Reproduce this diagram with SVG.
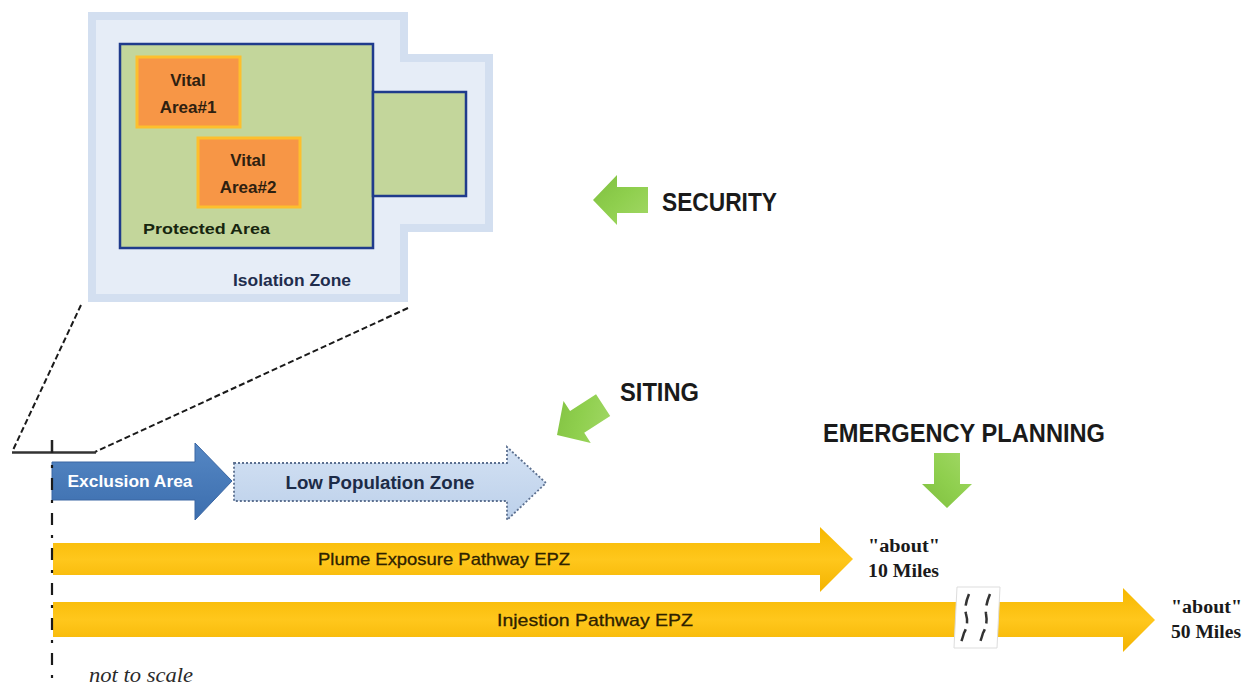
<svg xmlns="http://www.w3.org/2000/svg" xmlns:xlink="http://www.w3.org/1999/xlink" width="1248" height="685" viewBox="0 0 1248 685">
<style>
.sans{font-family:"Liberation Sans",Arial,sans-serif}
.serif{font-family:"Liberation Serif","Times New Roman",serif}
.big{font-family:"Liberation Sans",Arial,sans-serif;font-weight:bold;font-size:26px;fill:#1a1a1a}
.va{font-family:"Liberation Sans",Arial,sans-serif;font-weight:bold;font-size:17px;fill:#2e2010;text-anchor:middle}
.dash{fill:none;stroke:#1a1a1a;stroke-width:2;stroke-dasharray:6 3}
.yl{font-family:"Liberation Sans",Arial,sans-serif;font-size:17px;fill:#2e2200;text-anchor:middle;stroke:#2e2200;stroke-width:0.3}
.mi{font-family:"Liberation Serif","Times New Roman",serif;font-weight:bold;font-size:18px;fill:#1a1a1a}
</style>
<defs>
<linearGradient id="gGreen" x1="0" y1="0" x2="1" y2="1">
<stop offset="0" stop-color="#a3d867"/><stop offset="0.5" stop-color="#8fcf4e"/><stop offset="1" stop-color="#7fbf3f"/>
</linearGradient>
<linearGradient id="gYel" x1="0" y1="0" x2="0" y2="1">
<stop offset="0" stop-color="#f6b800"/><stop offset="0.5" stop-color="#ffc71c"/><stop offset="1" stop-color="#f3b300"/>
</linearGradient>
<linearGradient id="gBlue" x1="0" y1="0" x2="0" y2="1">
<stop offset="0" stop-color="#5587c4"/><stop offset="1" stop-color="#3c6eae"/>
</linearGradient>
<linearGradient id="gLp" x1="0" y1="0" x2="0" y2="1">
<stop offset="0" stop-color="#d3e1f3"/><stop offset="1" stop-color="#bcd0ea"/>
</linearGradient>
<path id="garrow" d="M-55,-13 H-24 V-25 L0,0 L-24,25 V13 H-55 Z"/>
</defs>

<g id="isolation-zone">
<path d="M92,16 H404 V58 H489 V228 H404 V298 H92 Z" fill="#e6edf7" stroke="#d3dff0" stroke-width="8" stroke-linejoin="miter"/>
<text class="sans" x="292" y="286" font-size="16" font-weight="bold" fill="#1f2d4d" text-anchor="middle" textLength="118" lengthAdjust="spacingAndGlyphs">Isolation Zone</text>
</g>

<g id="protected-area">
<rect x="120" y="44" width="253" height="204" fill="#c3d69b" stroke="#1f3b8c" stroke-width="2.5"/>
<rect x="373" y="92" width="93" height="104" fill="#c3d69b" stroke="#1f3b8c" stroke-width="2.5"/>
<text class="sans" x="143" y="234" font-size="15.5" font-weight="bold" fill="#17260f" textLength="127" lengthAdjust="spacingAndGlyphs">Protected Area</text>
</g>

<g id="vital-area-1">
<rect x="137" y="57" width="103" height="70" fill="#f79646" stroke="#fdbf2d" stroke-width="3"/>
<text class="va" x="188" y="86">Vital</text>
<text class="va" x="188" y="113">Area#1</text>
</g>

<g id="vital-area-2">
<rect x="198" y="138" width="102" height="69" fill="#f79646" stroke="#fdbf2d" stroke-width="3"/>
<text class="va" x="248" y="166">Vital</text>
<text class="va" x="248" y="193">Area#2</text>
</g>

<g id="connectors">
<line class="dash" x1="81" y1="305" x2="13" y2="450"/>
<line class="dash" x1="408" y1="308" x2="95" y2="452"/>
<line x1="12" y1="452.5" x2="96" y2="452.5" stroke="#333" stroke-width="2.5"/>
<line x1="52" y1="440" x2="52" y2="453" stroke="#222" stroke-width="2.5"/>
</g>

<g id="security">
<use xlink:href="#garrow" href="#garrow" transform="translate(593,200) rotate(180)" fill="url(#gGreen)"/>
<text class="big" x="662" y="211" textLength="115" lengthAdjust="spacingAndGlyphs">SECURITY</text>
</g>

<g id="siting">
<use xlink:href="#garrow" href="#garrow" transform="translate(557,435) rotate(147)" fill="url(#gGreen)"/>
<text class="big" x="620" y="401" textLength="79" lengthAdjust="spacingAndGlyphs">SITING</text>
</g>

<g id="emergency-planning">
<use xlink:href="#garrow" href="#garrow" transform="translate(947,508) rotate(90)" fill="url(#gGreen)"/>
<text class="big" x="823" y="442" textLength="282" lengthAdjust="spacingAndGlyphs">EMERGENCY PLANNING</text>
</g>

<g id="exclusion-area">
<path d="M52,462 H195 V443 L232,481 L195,520 V500 H52 Z" fill="url(#gBlue)" stroke="#3a66a3" stroke-width="1"/>
<text class="sans" x="130" y="487" font-size="17" font-weight="bold" fill="#ffffff" text-anchor="middle" textLength="125" lengthAdjust="spacingAndGlyphs">Exclusion Area</text>
</g>

<g id="low-population-zone">
<path d="M234,463 H507 V447 L546,483 L507,520 V501 H234 Z" fill="url(#gLp)" stroke="#5b6f8f" stroke-width="1.8" stroke-dasharray="2 2"/>
<text class="sans" x="380" y="489" font-size="18" font-weight="bold" fill="#1c2b47" text-anchor="middle" textLength="189" lengthAdjust="spacingAndGlyphs">Low Population Zone</text>
</g>

<g id="plume-epz">
<path d="M53,543 H820 V527 L853,559 L820,592 V575 H53 Z" fill="url(#gYel)"/>
<text class="yl" x="444" y="565" textLength="252" lengthAdjust="spacingAndGlyphs">Plume Exposure Pathway EPZ</text>
<text class="mi" x="868" y="552" textLength="72" lengthAdjust="spacingAndGlyphs">"about"</text>
<text class="mi" x="868" y="577" textLength="71" lengthAdjust="spacingAndGlyphs">10 Miles</text>
</g>

<g id="ingestion-epz">
<path d="M53,602 H1123 V588 L1155,620 L1123,652 V637 H53 Z" fill="url(#gYel)"/>
<text class="yl" x="595" y="626" textLength="196" lengthAdjust="spacingAndGlyphs">Injestion Pathway EPZ</text>
<text class="mi" x="1171" y="613" textLength="71" lengthAdjust="spacingAndGlyphs">"about"</text>
<text class="mi" x="1171" y="638" textLength="70" lengthAdjust="spacingAndGlyphs">50 Miles</text>
</g>

<g id="break">
<polygon points="957,587 1000,587 997,648 954,648" fill="#ffffff" stroke="#dddddd" stroke-width="1"/>
<path d="M969,594 Q964,606 966,614 Q969,624 964,633 Q962,640 960,645" fill="none" stroke="#333" stroke-width="2.5" stroke-dasharray="12 6"/>
<path d="M990,594 Q985,606 986,614 Q988,624 983,633 Q981,640 979,645" fill="none" stroke="#333" stroke-width="2.5" stroke-dasharray="12 6"/>
</g>

<g id="axis">
<line x1="52" y1="455" x2="52" y2="685" stroke="#1a1a1a" stroke-width="2.2" stroke-dasharray="12 10 3 10" stroke-dashoffset="12"/>
<text class="serif" x="89" y="682" font-size="20" font-style="italic" fill="#2a2a2a" textLength="104" lengthAdjust="spacingAndGlyphs">not to scale</text>
</g>
</svg>
